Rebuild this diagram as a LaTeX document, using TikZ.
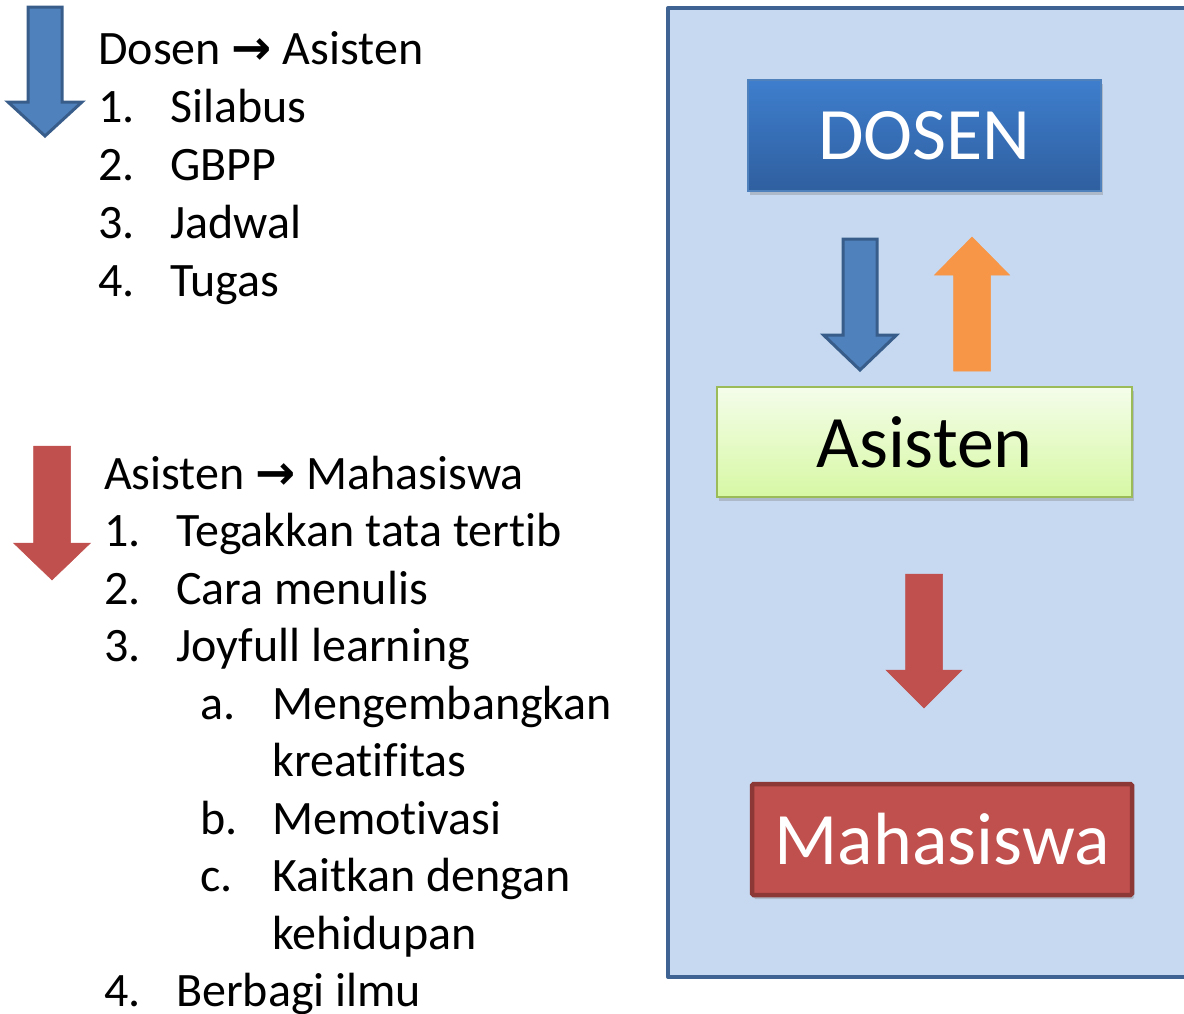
\documentclass[tikz,border=0pt]{standalone}
\usepackage{fontspec}
\setmainfont{Carlito}[Ligatures={NoCommon,NoContextual,NoRequired},Contextuals=NoAlternate]
\newfontfamily\symfont{DejaVu Sans}
\usetikzlibrary{shadows}

\definecolor{panelfill}{HTML}{C6D9F1}
\definecolor{panelline}{HTML}{3F6494}
\definecolor{arrowblue}{HTML}{4F81BD}
\definecolor{blueline}{HTML}{385D8A}
\definecolor{arrowred}{HTML}{C0504D}
\definecolor{redline}{HTML}{8C3836}
\definecolor{arroworange}{HTML}{F79646}
\definecolor{dosentop}{HTML}{3E7ECD}
\definecolor{dosenbot}{HTML}{2F5F9F}
\definecolor{asistop}{HTML}{F4FDEA}
\definecolor{asisbot}{HTML}{D7F8A4}
\definecolor{asisline}{HTML}{9BBB59}

\newcommand\toarrow{{\symfont\bfseries →}}

\begin{document}
\begin{tikzpicture}[x=1pt,y=-1pt,
    listtxt/.style={anchor=base west,inner sep=0pt,font=\fontsize{48}{58}\selectfont},
    box/.style={rectangle,inner sep=0pt,font=\fontsize{74}{80}\selectfont,
      drop shadow={opacity=0.35,shadow xshift=2pt,shadow yshift=-4pt}}]
  \useasboundingbox (0,0) rectangle (1184,1013);
  \clip (0,0) rectangle (1184,1013);

  %%%% panel
  \fill[panelfill] (668,8) rectangle (1210,977);
  \draw[panelline,line width=4pt,line join=round] (1210,8) -- (668,8) -- (668,977) -- (1210,977);

  \node[box,minimum width=353pt,minimum height=111pt,top color=dosentop,bottom color=dosenbot,
        draw=arrowblue,line width=1.5pt,text=white] (dosen) at (924.5,135.5) {DOSEN};
  \node[box,minimum width=415pt,minimum height=110pt,top color=asistop,bottom color=asisbot,
        draw=asisline,line width=2pt] (asisten) at (924.5,442) {Asisten};
  \node[box,minimum width=380pt,minimum height=111pt,fill=arrowred,draw=redline,
        line width=4.5pt,rounded corners=1.5pt,text=white] (mhs) at (942,839.5) {Mahasiswa};

  %%%% block arrows: centre / top / head base / tip / shaft / head
  \foreach \cx/\top/\hb/\tip/\sw/\hw/\col/\lin/\lw in
    {45/7/102/136/34/74/arrowblue/blueline/3pt,
     52/446/543/580/37/77/arrowred/arrowred/0.5pt,
     860/239/335/370/34/73/arrowblue/blueline/3pt,
     972/371/275/237/37/75/arroworange/arroworange/0.5pt,
     924/574/670/708/37/76/arrowred/arrowred/0.5pt}
   {\draw[fill=\col,draw=\lin,line width=\lw]
      ({\cx-\sw/2},\top) -- ({\cx+\sw/2},\top) -- ({\cx+\sw/2},\hb) -- ({\cx+\hw/2},\hb)
      -- (\cx,\tip) -- ({\cx-\hw/2},\hb) -- ({\cx-\sw/2},\hb) -- cycle;
   };

  %%%% Dosen -> Asisten
  \node[listtxt] (dhead) at (98,64) {Dosen \toarrow{} Asisten};
  \foreach \num/\txt [count=\i] in {1./Silabus,2./GBPP,3./Jadwal,4./Tugas}
   {\node[listtxt] (dnum\i) at (98,{64+58*\i}) {\num};
    \node[listtxt] (ditem\i) at (170,{64+58*\i}) {\txt};
   };

  %%%% Asisten -> Mahasiswa
  \node[listtxt] (ahead) at (104,489) {Asisten \toarrow{} Mahasiswa};
  \foreach \x/\num/\txt [count=\i] in
    {176/1./Tegakkan tata tertib,176/2./Cara menulis,176/3./Joyfull learning,
     272/a./Mengembangkan,272//kreatifitas,272/b./Memotivasi,
     272/c./Kaitkan dengan,272//kehidupan,176/4./Berbagi ilmu}
   {\node[listtxt] (anum\i) at ({\x-72},{489+57.5*\i}) {\num};
    \node[listtxt] (aitem\i) at (\x,{489+57.5*\i}) {\txt};
   };
\end{tikzpicture}
\end{document}
